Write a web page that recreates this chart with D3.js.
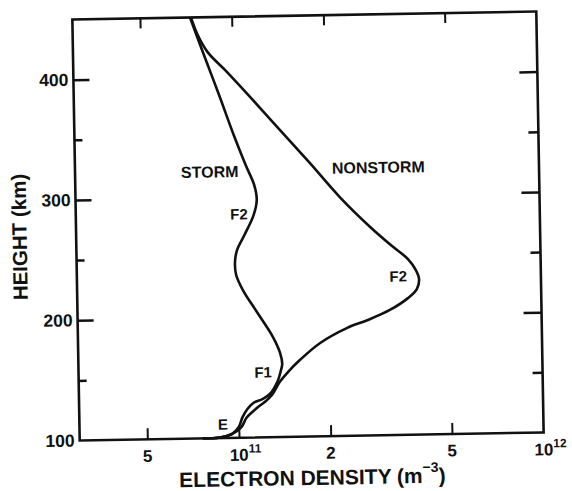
<!DOCTYPE html>
<html>
<head>
<meta charset="utf-8">
<script src="https://cdn.jsdelivr.net/npm/d3@7"></script>
<style>
  html, body { margin: 0; padding: 0; background: #fff; }
  svg { display: block; }
  text { font-family: "Liberation Sans", Arial, sans-serif; font-weight: bold; fill: #111; }
</style>
</head>
<body>
<div id="chart"></div>
<script>
// electron density (m^-3) vs height (km)
const stormDensity = [7.6e10, 8.65e10, 9.48e10, 1.0e11, 1.03e11, 1.07e11, 1.12e11, 1.2e11, 1.27e11,
  1.35e11, 1.38e11, 1.4e11, 1.38e11, 1.31e11, 1.17e11, 1.05e11, 1.0e11, 9.93e10, 1.01e11, 1.07e11,
  1.15e11, 1.18e11, 1.16e11, 1.09e11, 1.0e11, 9.0e10, 8.07e10, 7.3e10];
const stormHeight = [100, 100.5, 103.2, 108.9, 117.1, 123.8, 128.7, 131.8, 135.9,
  146.6, 154, 160.6, 169.8, 183.2, 203.4, 222.7, 235.3, 246.1, 256, 268.4,
  284.9, 297.4, 309.8, 326.6, 351.7, 385.2, 418.6, 450];

const nonstormDensity = [7.6e10, 8.65e10, 9.48e10, 1.02e11, 1.06e11, 1.11e11, 1.16e11, 1.22e11, 1.29e11,
  1.37e11, 1.46e11, 1.6e11, 1.87e11, 2.29e11, 2.69e11, 3.18e11, 3.65e11, 3.91e11, 3.98e11, 3.89e11,
  3.67e11, 3.26e11, 2.77e11, 2.21e11, 1.77e11, 1.42e11, 1.16e11, 9.44e10, 8.3e10, 7.7e10, 7.35e10];
const nonstormHeight = [100, 100.5, 103.2, 108.8, 116.3, 121.2, 125.3, 129.3, 135,
  145.7, 153.9, 163.7, 177.6, 189.6, 196, 204, 213.6, 221, 229.4, 236.8,
  246.1, 257.1, 273.3, 298.6, 327.4, 355.2, 380.6, 405.9, 421, 436, 450];

const densityTicks = [5e10, 1e11, 2e11, 5e11, 1e12];
const densityTickBase = ['5', '10', '2', '5', '10'];
const densityTickExp = ['', '11', '', '', '12'];
const heightMajor = [100, 200, 300, 400];
const heightMinor = [150, 250, 350];

// annotation labels placed in data units
const noteText = ['STORM', 'NONSTORM', 'F2', 'F2', 'F1', 'E'];
const noteDensity = [8.3e10, 2.97e11, 1.03e11, 3.4e11, 1.21e11, 8.87e10];
const noteHeight = [321.3, 322.6, 286, 232.1, 154.3, 111.6];

const width = 572, height = 491;
const svg = d3.select('#chart').append('svg')
  .attr('width', width)
  .attr('height', height);

// the scanned figure sits about one degree off square
const g = svg.append('g').attr('transform', 'rotate(-1,308,226)');

const x = d3.scaleLog().domain([3e10, 1e12]).range([76, 540]);
const y = d3.scaleLinear().domain([100, 450]).range([436.5, 15.5]);

const x0 = x.range()[0], x1 = x.range()[1];
const yb = y(100), yt = y(450);

function styleTicks(sel, w) {
  sel.select('.domain').remove();
  sel.selectAll('line').attr('stroke', '#111').attr('stroke-width', w);
}

// ticks on all four sides, pointing inward
g.append('g').attr('transform', `translate(0,${yb})`)
  .call(d3.axisBottom(x).tickValues(densityTicks.slice(0, 4)).tickSize(-11).tickFormat(''))
  .call(styleTicks, 2);
g.append('g').attr('transform', `translate(0,${yt})`)
  .call(d3.axisTop(x).tickValues(densityTicks.slice(0, 4)).tickSize(-10).tickFormat(''))
  .call(styleTicks, 2);
g.append('g').attr('transform', `translate(${x0},0)`)
  .call(d3.axisLeft(y).tickValues(heightMajor.slice(1)).tickSize(-16).tickFormat(''))
  .call(styleTicks, 2.5);
g.append('g').attr('transform', `translate(${x0},0)`)
  .call(d3.axisLeft(y).tickValues(heightMinor).tickSize(-8).tickFormat(''))
  .call(styleTicks, 2.5);
g.append('g').attr('transform', `translate(${x1},0)`)
  .call(d3.axisRight(y).tickValues(heightMajor.slice(1)).tickSize(-18).tickFormat(''))
  .call(styleTicks, 2.5);
g.append('g').attr('transform', `translate(${x1},0)`)
  .call(d3.axisRight(y).tickValues(heightMinor).tickSize(-10).tickFormat(''))
  .call(styleTicks, 2.5);

g.append('rect')
  .attr('x', x0).attr('y', yt)
  .attr('width', x1 - x0).attr('height', yb - yt)
  .attr('fill', 'none')
  .attr('stroke', '#111')
  .attr('stroke-width', 2.6);

const line = d3.line()
  .x(d => x(d[0]))
  .y(d => y(d[1]))
  .curve(d3.curveCatmullRom.alpha(0.5));

const storm = stormDensity.map((d, i) => [d, stormHeight[i]]);
const nonstorm = nonstormDensity.map((d, i) => [d, nonstormHeight[i]]);

[storm, nonstorm].forEach(series => {
  g.append('path')
    .datum(series)
    .attr('fill', 'none')
    .attr('stroke', '#111')
    .attr('stroke-width', 2.6)
    .attr('stroke-linejoin', 'round')
    .attr('d', line);
});

// density tick labels
densityTicks.forEach((v, i) => {
  const t = g.append('text')
    .attr('y', yb + 17)
    .attr('dominant-baseline', 'central')
    .style('font-size', '17px');
  if (densityTickExp[i]) {
    t.attr('x', x(v) - 9.5).attr('text-anchor', 'start');
    t.append('tspan').text(densityTickBase[i]);
    t.append('tspan').attr('dy', -6).style('font-size', '12px').text(densityTickExp[i]);
  } else {
    t.attr('x', x(v)).attr('text-anchor', 'middle').text(densityTickBase[i]);
  }
});

// height tick labels
g.selectAll('.hlab')
  .data(heightMajor)
  .join('text')
  .attr('class', 'hlab')
  .attr('x', x0 - 5)
  .attr('y', d => y(d))
  .attr('text-anchor', 'end')
  .attr('dominant-baseline', 'central')
  .style('font-size', '17.5px')
  .text(d => d);

// axis titles
const xt = g.append('text')
  .attr('x', 308)
  .attr('y', 477)
  .attr('text-anchor', 'middle')
  .attr('dominant-baseline', 'central')
  .style('font-size', '21px');
xt.append('tspan').text('ELECTRON DENSITY (m');
xt.append('tspan').attr('dy', -8).style('font-size', '14px').text('\u22123');
xt.append('tspan').attr('dy', 8).text(')');

g.append('text')
  .attr('transform', 'translate(19,232) rotate(-90)')
  .attr('text-anchor', 'middle')
  .attr('dominant-baseline', 'central')
  .style('font-size', '20.5px')
  .text('HEIGHT (km)');

// curve annotations
g.selectAll('.note')
  .data(noteText)
  .join('text')
  .attr('class', 'note')
  .attr('x', (d, i) => x(noteDensity[i]))
  .attr('y', (d, i) => y(noteHeight[i]))
  .attr('text-anchor', 'middle')
  .attr('dominant-baseline', 'central')
  .style('font-size', (d, i) => i < 2 ? '16px' : '15px')
  .text(d => d);
</script>
</body>
</html>
